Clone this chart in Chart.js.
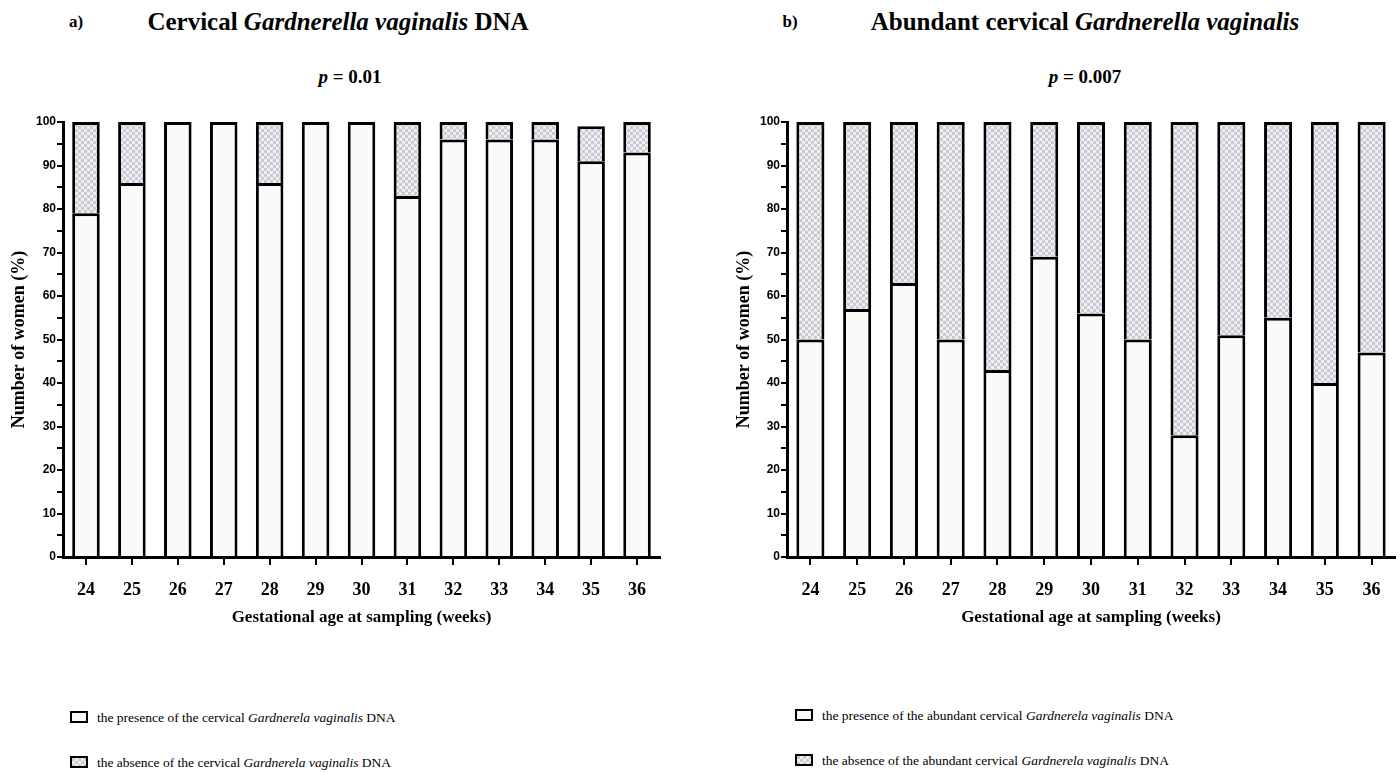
<!DOCTYPE html>
<html>
<head>
<meta charset="utf-8">
<script src="https://cdn.jsdelivr.net/npm/chart.js@4.4.1/dist/chart.umd.min.js"></script>
<style>
	body {
		margin: 0;
		width: 1400px;
		height: 773px;
		position: relative;
		overflow: hidden;
		background: #fff;
		font-family: "Liberation Serif", "Times New Roman", serif;
		color: #000;
	}
	canvas.panel {
		position: absolute;
		top: 0;
	}
	.txt {
		position: absolute;
		white-space: nowrap;
		font-weight: bold;
		transform: translate(-50%, -50%);
	}
	.legend {
		position: absolute;
		white-space: nowrap;
		font-size: 13.5px;
		line-height: 14px;
	}
	.legend .box {
		display: inline-block;
		width: 14px;
		height: 8px;
		border: 2.5px solid #000;
		background: #fafafa;
		vertical-align: -1px;
		margin-right: 9px;
	}
</style>
</head>
<body>
<div class="txt" style="left:76px;top:22px;font-size:17px;">a)</div>
<div class="txt" style="left:338px;top:22px;font-size:25px;">Cervical <i>Gardnerella vaginalis</i> DNA</div>
<div class="txt" style="left:350px;top:77px;font-size:19px;"><i>p</i> = 0.01</div>

<div class="txt" style="left:790px;top:22px;font-size:17px;">b)</div>
<div class="txt" style="left:1085px;top:22px;font-size:25px;">Abundant cervical <i>Gardnerella vaginalis</i></div>
<div class="txt" style="left:1085px;top:77px;font-size:19px;"><i>p</i> = 0.007</div>

<canvas id="chartA" class="panel" width="700" height="640" style="left:0;"></canvas>
<canvas id="chartB" class="panel" width="700" height="640" style="left:700px;"></canvas>

<div class="legend" style="left:70px;top:711px;"><span class="box"></span>the presence of the cervical <i>Gardnerela vaginalis</i> DNA</div>
<div class="legend" style="left:70px;top:756px;"><span class="box checker"></span>the absence of the cervical <i>Gardnerela vaginalis</i> DNA</div>
<div class="legend" style="left:795px;top:709px;"><span class="box"></span>the presence of the abundant cervical <i>Gardnerela vaginalis</i> DNA</div>
<div class="legend" style="left:795px;top:754px;"><span class="box checker"></span>the absence of the abundant cervical <i>Gardnerela vaginalis</i> DNA</div>

<script>
const weeks = ["24", "25", "26", "27", "28", "29", "30", "31", "32", "33", "34", "35", "36"];
const cervicalPresent = [79, 86, 100, 100, 86, 100, 100, 83, 96, 96, 96, 91, 93];
const cervicalAbsent = [21, 14, 0, 0, 14, 0, 0, 17, 4, 4, 4, 8, 7];
const abundantPresent = [50, 57, 63, 50, 43, 69, 56, 50, 28, 51, 55, 40, 47];
const abundantAbsent = [50, 43, 37, 50, 57, 31, 44, 50, 72, 49, 45, 60, 53];
const yTickLabels = ["0", "10", "20", "30", "40", "50", "60", "70", "80", "90", "100"];

const SERIF = "'Liberation Serif', 'Times New Roman', serif";
const SANS = "'Liberation Sans', Arial, sans-serif";

function makeCheckerTile() {
	const tile = document.createElement("canvas");
	tile.width = 6;
	tile.height = 6;
	const g = tile.getContext("2d");
	g.fillStyle = "#efeff3";
	g.fillRect(0, 0, 6, 6);
	g.fillStyle = "#cacad4";
	g.fillRect(0, 0, 3, 3);
	g.fillRect(3, 3, 3, 3);
	return tile;
}

const tile = makeCheckerTile();
document.querySelectorAll(".checker").forEach(function (box) {
	box.style.backgroundImage = "url(" + tile.toDataURL() + ")";
});

function buildChart(canvasId, present, absent, axisLeft, rightPad, titleGap) {
	const canvas = document.getElementById(canvasId);
	const pattern = canvas.getContext("2d").createPattern(tile, "repeat");

	return new Chart(canvas, {
		type: "bar",
		data: {
			labels: weeks,
			datasets: [
				{
					label: "presence",
					data: present,
					backgroundColor: "#fafafa",
					borderColor: "#000",
					borderWidth: { top: 3, left: 3, right: 3, bottom: 0 },
					borderSkipped: false
				},
				{
					label: "absence",
					data: absent,
					backgroundColor: pattern,
					borderColor: "#000",
					borderWidth: { top: 3, left: 3, right: 3, bottom: 0 },
					borderSkipped: false
				}
			]
		},
		options: {
			responsive: false,
			animation: false,
			layout: { padding: { left: 0, right: rightPad, top: 122, bottom: 0 } },
			datasets: { bar: { categoryPercentage: 1, barPercentage: 0.6 } },
			plugins: {
				legend: { display: false },
				tooltip: { enabled: false }
			},
			scales: {
				x: {
					stacked: true,
					grid: { display: true, offset: false, drawOnChartArea: false, color: "#000", lineWidth: 2, tickLength: 8 },
					border: { color: "#000", width: 3 },
					ticks: { color: "#000", padding: 15, font: { family: SERIF, size: 18, weight: "bold" } },
					title: {
						display: true,
						text: "Gestational age at sampling (weeks)",
						color: "#000",
						font: { family: SERIF, size: 17, weight: "bold" },
						padding: { top: 2, bottom: 12 }
					},
					afterFit: function (scale) {
						scale.height = 83;
					}
				},
				y: {
					stacked: true,
					min: 0,
					max: 100,
					grid: { display: true, drawOnChartArea: false, color: "#000", lineWidth: 2, tickLength: 6 },
					border: { color: "#000", width: 3 },
					ticks: {
						stepSize: 5,
						color: "#000",
						padding: 1,
						font: { family: SANS, size: 12, weight: "bold" },
						callback: function (value) {
							return value % 10 === 0 ? yTickLabels[value / 10] : "";
						}
					},
					title: {
						display: true,
						text: "Number of women (%)",
						color: "#000",
						font: { family: SERIF, size: 18, weight: "bold" },
						padding: { top: titleGap, bottom: 4 }
					},
					afterFit: function (scale) {
						scale.width = axisLeft;
					}
				}
			}
		}
	});
}

buildChart("chartA", cervicalPresent, cervicalAbsent, 63, 40, 9);
buildChart("chartB", abundantPresent, abundantAbsent, 87, 5, 34);
</script>
</body>
</html>
